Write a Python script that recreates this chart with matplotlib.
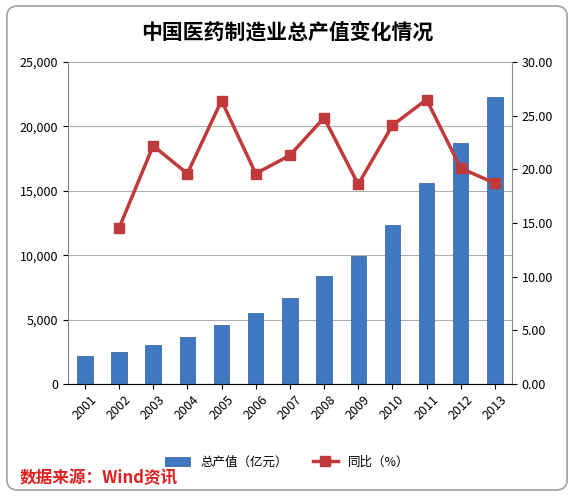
import matplotlib
matplotlib.use("Agg")
import matplotlib.pyplot as plt
from matplotlib.patches import FancyBboxPatch

plt.rcParams['font.family'] = ['Noto Sans CJK SC', 'DejaVu Sans']

years = ["2001", "2002", "2003", "2004", "2005", "2006", "2007",
         "2008", "2009", "2010", "2011", "2012", "2013"]
output = [2150, 2500, 3050, 3650, 4600, 5500, 6700, 8350, 9900, 12350, 15600, 18700, 22300]
growth_years = years[1:]
growth = [14.5, 22.2, 19.6, 26.4, 19.6, 21.3, 24.8, 18.6, 24.1, 26.5, 20.1, 18.7]

fig = plt.figure(figsize=(5.74, 4.96), dpi=100)
fig.patches.append(FancyBboxPatch((0.012, 0.012), 0.976, 0.976, boxstyle="round,pad=0,rounding_size=0.02",
                                  transform=fig.transFigure, fill=False, ec="#a0a0a0", lw=1.2))
ax = fig.add_axes([0.118, 0.226, 0.774, 0.649])
x = list(range(len(years)))
bars = ax.bar(x, output, width=0.45, color="#3f78c0", edgecolor="#2c5a99", lw=0.5, label="总产值（亿元）", zorder=2)
ax.set_ylim(0, 25000)
ax.set_yticks(range(0, 25001, 5000))
ax.set_yticklabels([f"{v:,}" for v in range(0, 25001, 5000)], fontsize=9)
ax.set_xlim(-0.5, len(years) - 0.5)
ax.set_xticks(x)
ax.set_xticklabels(years, rotation=45, fontsize=9)
ax.grid(axis="y", color="#b0b0b0", lw=0.8, zorder=0)
for s in ["top", "right"]:
    ax.spines[s].set_visible(False)
ax.spines["left"].set_color("#888888")
ax.spines["bottom"].set_color("#888888")

ax2 = ax.twinx()
gx = [years.index(y) for y in growth_years]
ln, = ax2.plot(gx, growth, color="#c0393b", lw=2.5, marker="s", ms=7, label="同比（%）", zorder=3)
ax2.set_ylim(0, 30)
ax2.set_yticks(range(0, 31, 5))
ax2.set_yticklabels([f"{v:.2f}" for v in range(0, 31, 5)], fontsize=9)
for s in ["top", "left"]:
    ax2.spines[s].set_visible(False)
ax2.spines["right"].set_color("#888888")

fig.text(0.5, 0.935, "中国医药制造业总产值变化情况", ha="center", va="center", fontsize=15, fontweight="bold")
fig.legend([bars, ln], ["总产值（亿元）", "同比（%）"], loc="center", bbox_to_anchor=(0.5, 0.068),
           ncol=2, frameon=False, fontsize=9)
fig.text(0.035, 0.035, "数据来源：Wind资讯", color="#e02020", fontsize=12, style="italic", fontweight="bold",
         ha="left", va="center")
fig.savefig("out.png", dpi=100)
